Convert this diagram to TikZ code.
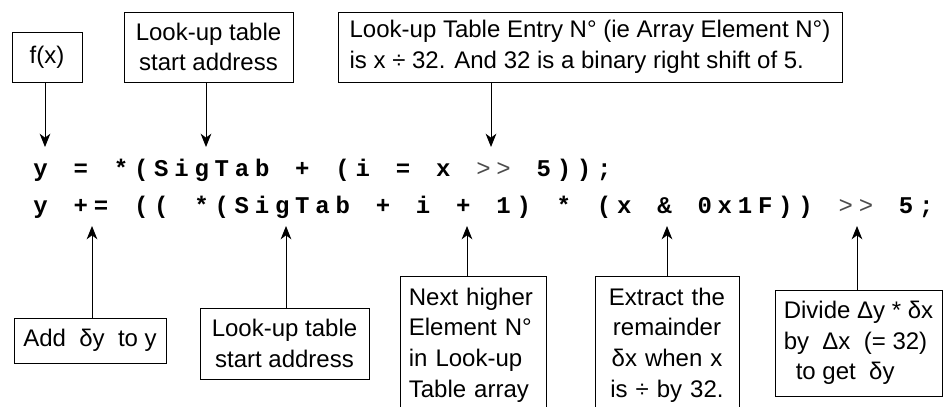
\documentclass[tikz,border=0pt]{standalone}
\usepackage{fontspec}
\setmainfont{Liberation Sans}
\newfontfamily\codefont{Liberation Mono}[LetterSpace=24, WordSpace=1.28]
\usetikzlibrary{arrows.meta}
\newcommand\shiftop{{\mdseries\color{black!70}>>}}

\begin{document}
\begin{tikzpicture}[x=0.75pt, y=-0.75pt, line width=0.75pt,
    note/.style={draw, align=center, inner sep=2pt,
        font=\fontsize{18}{23}\selectfont},
    code/.style={anchor=base west, inner sep=0pt,
        font=\fontsize{18}{18}\codefont\bfseries},
    pointer/.style={-{Stealth[length=10pt, width=8pt, inset=3pt]}}]
    \useasboundingbox (0,0) rectangle (943,407);
    \clip (0,0) rectangle (943,407);

    % the two lines of code
    \node[code] (line1) at (33,176.5) {y = *(SigTab + (i = x \shiftop{} 5));};
    \node[code] (line2) at (33,213.5) {y += (( *(SigTab + i + 1) * (x \& 0x1F)) \shiftop{} 5;};

    % notes above the code
    \node[note, minimum width=52.5pt, minimum height=37.5pt] (fx) at (47,57) {f(x)};
    \node[note, minimum width=126.75pt, minimum height=52.5pt] (tabtop) at (208.5,47) {Look-up table\\start address};
    \node[note, align=left, minimum width=378pt, minimum height=52.5pt] (entry) at (590,47)
        {Look-up Table Entry N° (ie Array Element N°)\\is x ÷ 32. And 32 is a binary right shift of 5.};

    % notes below the code
    \node[note, minimum width=114pt, minimum height=33.75pt] (addy) at (90,340.5) {Add~~δy~~to y};
    \node[note, minimum width=126.75pt, minimum height=53.25pt] (tabbot) at (284.5,343.5) {Look-up table\\start address};
    \node[note, anchor=north, align=left, text width=97pt, inner xsep=5.9pt, inner ysep=8.5pt, text depth=120pt] (next) at (473.5,276)
        {Next higher\\Element N°\\in Look-up\\Table array};
    \node[note, anchor=north, text width=100pt, inner xsep=4pt, inner ysep=8.5pt, text depth=120pt] (rest) at (667,276)
        {Extract the\\remainder\\δx when x\\is ÷ by 32.};
    \node[note, align=left, minimum width=125.25pt, minimum height=79.5pt] (divide) at (858.5,343)
        {Divide Δy * δx\\by~~Δx~~(= 32)\\\hspace{9pt}to get~~δy};

    % pointers
    \foreach \src/\xpos in {fx/45, tabtop/206, entry/491} {
        \coordinate (tip\src) at (\xpos,147);
        \draw[pointer] (\src.south -| tip\src) -- (tip\src);
    }
    \foreach \src/\xpos in {addy/92, tabbot/286, next/467, rest/667, divide/857} {
        \coordinate (tip\src) at (\xpos,226);
        \draw[pointer] (\src.north -| tip\src) -- (tip\src);
    }
\end{tikzpicture}
\end{document}
